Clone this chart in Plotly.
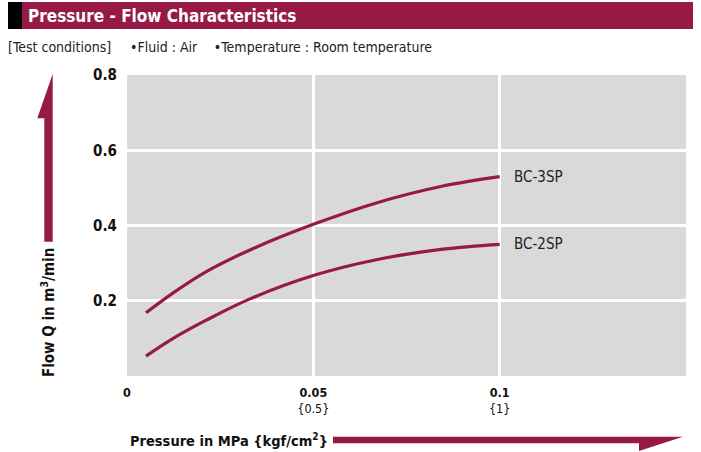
import plotly.graph_objects as go

# ---- data ----
bc3_x = [0.0051, 0.0124, 0.0214, 0.0330, 0.0500, 0.0669, 0.0848, 0.1000]
bc3_y = [0.168, 0.221, 0.278, 0.335, 0.403, 0.460, 0.505, 0.530]
bc2_x = [0.0051, 0.0124, 0.0214, 0.0330, 0.0500, 0.0669, 0.0848, 0.1000]
bc2_y = [0.053, 0.100, 0.149, 0.205, 0.267, 0.309, 0.337, 0.350]
series_names = ["BC-3SP", "BC-2SP"]
x_tickvals = [0, 0.05, 0.1]
x_ticktext = ["0", "0.05", "0.1"]
x_ticktext2 = ["", "{0.5}", "{1}"]
y_tickvals = [0.2, 0.4, 0.6, 0.8]
y_ticktext = ["0.2", "0.4", "0.6", "0.8"]

MAROON = "#961a45"
FONT = "Liberation Sans Narrow, DejaVu Sans Condensed, Liberation Sans, sans-serif"

W, H = 701, 452
L, R, T, B = 127, 15, 75, 76
pw, ph = W - L - R, H - T - B

def px(x):
    return (x - L) / pw

def py(y):
    return (H - B - y) / ph

fig = go.Figure()
for xs, ys, name in [(bc3_x, bc3_y, series_names[0]), (bc2_x, bc2_y, series_names[1])]:
    fig.add_trace(go.Scatter(x=xs, y=ys, mode="lines", name=name,
                             line=dict(color=MAROON, width=3.2, shape="spline", smoothing=1.0),
                             showlegend=False, hoverinfo="skip"))
    fig.add_annotation(x=xs[-1], y=ys[-1], text=name, showarrow=False,
                       xanchor="left", yanchor="middle", xshift=12,
                       font=dict(family=FONT, size=15, color="#222"))

ticktext = [f"<b>{a}</b>" + (f"<br>{b}" if b else "") for a, b in zip(x_ticktext, x_ticktext2)]

fig.update_layout(
    width=W, height=H,
    margin=dict(l=L, r=R, t=T, b=B),
    paper_bgcolor="white",
    plot_bgcolor="#d9d9d9",
    font=dict(family=FONT, color="#111"),
    xaxis=dict(range=[0, 0.15], tickvals=x_tickvals, ticktext=ticktext,
               showgrid=True, gridcolor="white", gridwidth=3, zeroline=False,
               showline=False, ticks="", ticklabelstandoff=7,
               tickfont=dict(family=FONT, size=12.5, color="#111")),
    yaxis=dict(range=[0, 0.8], tickvals=y_tickvals, ticktext=[f"<b>{t}</b>" for t in y_ticktext],
               showgrid=True, gridcolor="white", gridwidth=3, zeroline=False,
               showline=False, ticks="", ticklabelstandoff=9,
               tickfont=dict(family=FONT, size=15, color="#111")),
)

shapes = []
# title bar
shapes.append(dict(type="rect", xref="paper", yref="paper",
                   x0=px(8), x1=px(22), y0=py(29), y1=py(2),
                   fillcolor="black", line=dict(width=0), layer="above"))
shapes.append(dict(type="rect", xref="paper", yref="paper",
                   x0=px(22), x1=px(693), y0=py(29), y1=py(2),
                   fillcolor=MAROON, line=dict(width=0), layer="above"))
# x arrow
xa = [(333, 436.7), (683, 436.7), (639, 451), (639, 443.3), (333, 443.3)]
path = "M " + " L ".join(f"{px(a)},{py(b)}" for a, b in xa) + " Z"
shapes.append(dict(type="path", xref="paper", yref="paper", path=path,
                   fillcolor=MAROON, line=dict(width=0), layer="above"))
# y arrow
ya = [(52.7, 241.7), (52.7, 74), (37.3, 118.3), (44.3, 118.3), (44.3, 241.7)]
path = "M " + " L ".join(f"{px(a)},{py(b)}" for a, b in ya) + " Z"
shapes.append(dict(type="path", xref="paper", yref="paper", path=path,
                   fillcolor=MAROON, line=dict(width=0), layer="above"))
fig.update_layout(shapes=shapes)

fig.add_annotation(xref="paper", yref="paper", x=px(26), y=py(16),
                   text="<b>Pressure - Flow Characteristics</b>", showarrow=False,
                   xanchor="left", yanchor="middle",
                   font=dict(family=FONT, size=17, color="white"))
fig.add_annotation(xref="paper", yref="paper", x=px(6), y=py(47),
                   text="[Test conditions]\u2003\u2002\u2022Fluid : Air\u2003 \u2022Temperature : Room temperature",
                   showarrow=False, xanchor="left", yanchor="middle",
                   font=dict(family=FONT, size=14, color="#222"))
fig.add_annotation(xref="paper", yref="paper", x=px(128), y=py(440),
                   text="<b>Pressure in MPa {kgf/cm<sup>2</sup>}</b>", showarrow=False,
                   xanchor="left", yanchor="middle",
                   font=dict(family=FONT, size=14.5, color="#111"))
fig.add_annotation(xref="paper", yref="paper", x=px(48), y=py(313),
                   text="<b>Flow Q in m<sup>3</sup>/min</b>", showarrow=False,
                   textangle=-90, xanchor="center", yanchor="middle",
                   font=dict(family=FONT, size=15, color="#111"))

fig.write_html("out.html", post_script="document.body.style.margin='0';",
               config={"displayModeBar": False})
